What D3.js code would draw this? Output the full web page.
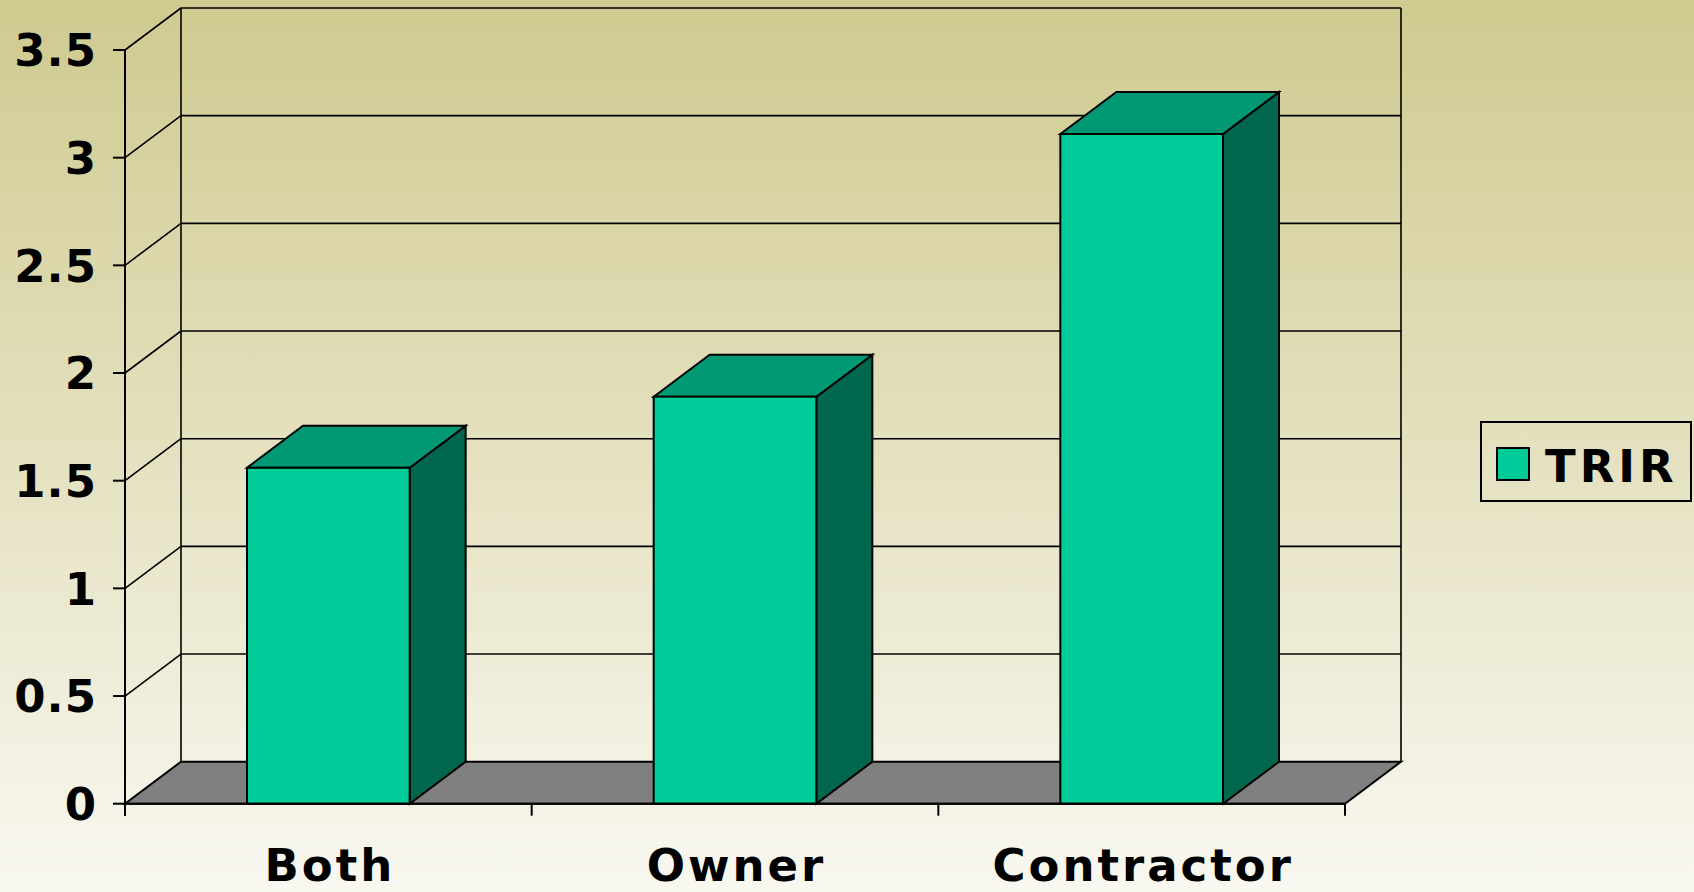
<!DOCTYPE html>
<html>
<head>
<meta charset="utf-8">
<script src="https://cdn.jsdelivr.net/npm/d3@7"></script>
<style>
  html, body { margin: 0; padding: 0; overflow: hidden; }
  svg { display: block; }
  text { font-family: "DejaVu Sans", Verdana, sans-serif; font-weight: bold; fill: #000; }
</style>
</head>
<body>
<svg id="chart" width="1694" height="892"></svg>
<script>
const categories = ["Both", "Owner", "Contractor"];
const trirValues = [1.56, 1.89, 3.11];
const yTickValues = [0, 0.5, 1, 1.5, 2, 2.5, 3, 3.5];
const yTickLabels = ["0", "0.5", "1", "1.5", "2", "2.5", "3", "3.5"];
const seriesName = "TRIR";

const W = 1694, H = 892;
const left = 125, right = 1345, y0px = 803.7, yTopPx = 50;
const DX = 56, DY = 42;

const svg = d3.select("#chart");

// background gradient
const defs = svg.append("defs");
const grad = defs.append("linearGradient").attr("id", "bg")
  .attr("x1", 0).attr("y1", 0).attr("x2", 0).attr("y2", 1);
grad.append("stop").attr("offset", 0).attr("stop-color", "#cfca8f");
grad.append("stop").attr("offset", 0.55).attr("stop-color", "#e6e3c4");
grad.append("stop").attr("offset", 1).attr("stop-color", "#f9f8f1");
svg.append("rect").attr("width", W).attr("height", H).attr("fill", "url(#bg)");

const y = d3.scaleLinear().domain([0, 3.5]).range([y0px, yTopPx]);
const x = d3.scaleBand().domain(categories).range([left, right])
  .paddingInner(0.6).paddingOuter(0.3);
const xGroup = d3.scaleBand().domain(categories).range([left, right]).padding(0);

// floor
const floorPts = [[left, y(0)], [right, y(0)], [right + DX, y(0) - DY], [left + DX, y(0) - DY]];
svg.append("path")
  .attr("d", d3.line()(floorPts) + "Z")
  .attr("fill", "#808080").attr("stroke", "#000").attr("stroke-width", 2);

// walls: gridlines
const grid = svg.append("g").attr("stroke", "#000").attr("stroke-width", 1.6).attr("fill", "none");
yTickValues.forEach(v => {
  if (v === 0) return;
  grid.append("line")
    .attr("x1", left).attr("y1", y(v))
    .attr("x2", left + DX).attr("y2", y(v) - DY);
  grid.append("line")
    .attr("x1", left + DX).attr("y1", y(v) - DY)
    .attr("x2", right + DX).attr("y2", y(v) - DY);
});
// back wall verticals
grid.append("line")
  .attr("x1", left + DX).attr("y1", y(3.5) - DY)
  .attr("x2", left + DX).attr("y2", y(0) - DY);
grid.append("line")
  .attr("x1", right + DX).attr("y1", y(3.5) - DY)
  .attr("x2", right + DX).attr("y2", y(0) - DY);

// bars
const bars = svg.append("g").attr("stroke", "#000").attr("stroke-width", 2).attr("stroke-linejoin", "miter");
categories.forEach((c, i) => {
  const bx = x(c), bw = x.bandwidth(), by = y(trirValues[i]), b0 = y(0);
  const g = bars.append("g");
  g.append("path")
    .attr("d", d3.line()([[bx + bw, by], [bx + bw + DX, by - DY], [bx + bw + DX, b0 - DY], [bx + bw, b0]]) + "Z")
    .attr("fill", "#00664d");
  g.append("path")
    .attr("d", d3.line()([[bx, by], [bx + DX, by - DY], [bx + bw + DX, by - DY], [bx + bw, by]]) + "Z")
    .attr("fill", "#009973");
  g.append("rect")
    .attr("x", bx).attr("y", by).attr("width", bw).attr("height", b0 - by)
    .attr("fill", "#00cc99");
});

// axes
const ax = svg.append("g").attr("stroke", "#000").attr("stroke-width", 2);
ax.append("line").attr("x1", left).attr("y1", y(3.5)).attr("x2", left).attr("y2", y(0) + 12);
ax.append("line").attr("x1", left).attr("y1", y(0)).attr("x2", right).attr("y2", y(0));
yTickValues.forEach(v => {
  ax.append("line").attr("x1", left - 12).attr("y1", y(v)).attr("x2", left).attr("y2", y(v));
});
const bounds = categories.map(c => xGroup(c)).concat([right]);
bounds.forEach(bx => {
  ax.append("line").attr("x1", bx).attr("y1", y(0)).attr("x2", bx).attr("y2", y(0) + 12);
});

// y labels
svg.append("g").selectAll("text").data(yTickValues).join("text")
  .attr("x", 97).attr("y", d => y(d) + 16.4)
  .attr("text-anchor", "end")
  .attr("font-size", 45)
  .attr("letter-spacing", "1px")
  .text((d, i) => yTickLabels[i]);

// x labels
svg.append("g").selectAll("text").data(categories).join("text")
  .attr("x", d => xGroup(d) + xGroup.bandwidth() / 2 + 1.5)
  .attr("y", y(0) + 77.5)
  .attr("text-anchor", "middle")
  .attr("font-size", 45)
  .attr("letter-spacing", "3px")
  .text(d => d);

// legend
const lg = svg.append("g");
lg.append("rect").attr("x", 1481).attr("y", 422).attr("width", 210).attr("height", 79)
  .attr("fill", "none").attr("stroke", "#000").attr("stroke-width", 2);
lg.append("rect").attr("x", 1497).attr("y", 448).attr("width", 32).attr("height", 32)
  .attr("fill", "#00cc99").attr("stroke", "#000").attr("stroke-width", 2);
lg.append("text").attr("x", 1545).attr("y", 482).attr("font-size", 45)
  .attr("letter-spacing", "4px").text(seriesName);
</script>
</body>
</html>
